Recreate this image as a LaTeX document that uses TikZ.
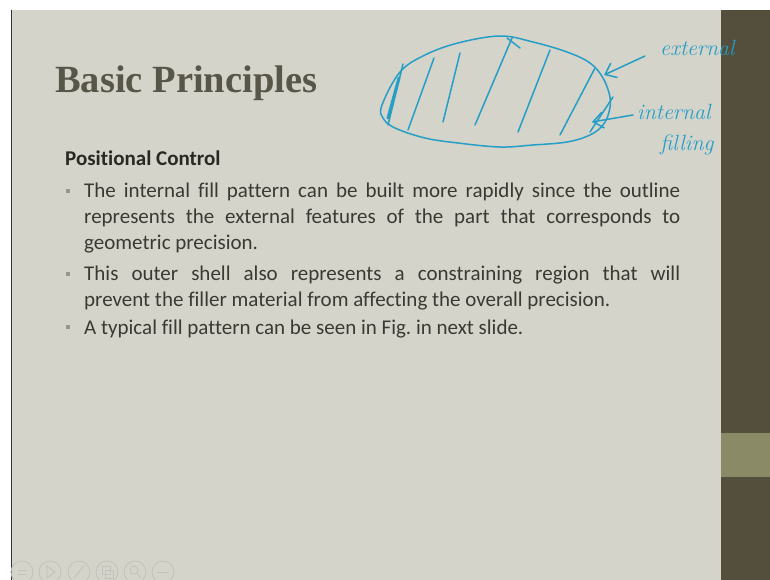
\documentclass[tikz,border=0pt]{standalone}
\usepackage{fontspec}
\newfontfamily\calibri[Ligatures=NoCommon]{Carlito}
\newfontfamily\titelschrift{Liberation Serif}
\usetikzlibrary{arrows.meta}
\frenchspacing
\definecolor{folie}{RGB}{212,212,203}
\definecolor{balken}{RGB}{84,78,60}
\definecolor{oliv}{RGB}{138,138,102}
\definecolor{titel}{RGB}{88,86,72}
\definecolor{schrift}{RGB}{58,58,52}
\definecolor{stiftfarbe}{RGB}{38,158,198}
\definecolor{punkt}{RGB}{150,150,140}
\definecolor{knopf}{RGB}{194,194,188}
\tikzset{
	stiftstrich/.style={stiftfarbe, line width=1.5pt, line cap=round, line join=round},
	absatz/.style={text width=596pt, align=justify, anchor=base west, inner sep=0pt, schrift, font=\calibri\fontsize{21}{26}\selectfont},
	bullet/.style={fill=punkt, inner sep=0pt, minimum size=4pt},
	hand/.style={stiftfarbe, anchor=base west, inner sep=0pt, font=\itshape\fontsize{22}{24}\selectfont}
}

\begin{document}
\begin{tikzpicture}[x=1pt,y=-1pt] %Folie mit Handskizze
	\useasboundingbox (0,0) rectangle (770,580);
	\fill[white] (0,0) rectangle (770,580);
	\fill[folie] (12,10) rectangle (721,580);
	\fill[balken] (721,10) rectangle (770,580);
	\fill[oliv] (721,433) rectangle (770,477);
	\draw[black!80, line width=1.2pt] (11.5,10) -- (11.5,580);
	% Navigation
	\draw[knopf, line width=0.8pt] (22,572) circle (11pt);
	\draw[knopf, line width=0.8pt] (50,572) circle (11pt);
	\draw[knopf, line width=0.8pt] (79,572) circle (11pt);
	\draw[knopf, line width=0.8pt] (107,572) circle (11pt);
	\draw[knopf, line width=0.8pt] (135,572) circle (11pt);
	\draw[knopf, line width=0.8pt] (163,572) circle (11pt);
	\draw[knopf, line width=0.8pt] (18,570) -- (26,570) (18,574) -- (26,574);
	\draw[knopf, line width=0.8pt] (47,566) -- (55,572) -- (47,578) -- cycle;
	\draw[knopf, line width=0.8pt] (74,578) -- (84,566);
	\draw[knopf, line width=0.8pt] (102,566) rectangle (110,574) (105,570) rectangle (113,578);
	\draw[knopf, line width=0.8pt] (134,570) circle (4pt) (137,573) -- (141,578);
	\draw[knopf, line width=0.8pt] (157,572) -- (169,572);

	\node[titel, anchor=base west, inner sep=0pt, font=\titelschrift\bfseries\fontsize{38.5}{40}\selectfont] (T) at (55,93) {Basic Principles};
	\node[schrift!70!black, anchor=base west, inner sep=0pt, font=\calibri\bfseries\fontsize{21}{24}\selectfont] (H) at (65,166) {Positional Control};

	\node[bullet] (B1) at (68,191) {};
	\node[absatz] (P1) at (84,197) {The internal fill pattern can be built more rapidly since the outline\linebreak represents the external features of the part that corresponds to\linebreak geometric precision.};
	\node[bullet] (B2) at (68,274) {};
	\node[absatz] (P2) at (84,280) {This outer shell also represents a constraining region that will\linebreak prevent the filler material from affecting the overall precision.};
	\node[bullet] (B3) at (68,327) {};
	\node[absatz] (P3) at (84,334) {A typical fill pattern can be seen in Fig. in next slide.};

	% Skizze
	\draw[stiftstrich] plot[smooth cycle, tension=0.6] coordinates {(382,105) (400,72) (425,55) (458,43) (500,36) (533,42) (567,52) (590,63) (603,78) (610,97) (609,112) (603,125) (590,135) (567,142) (533,145) (500,147) (458,143) (425,138) (395,128) (383,118)};
	\draw[stiftstrich, line width=3pt] (399,78) -- (388,118);
	\draw[stiftstrich] (403,64) -- (388,125);
	\draw[stiftstrich] (434,58) -- (408,130);
	\draw[stiftstrich] (460,53) -- (443,122);
	\draw[stiftstrich] (507,38) -- (520,48);
	\draw[stiftstrich] (512,38) -- (475,125);
	\draw[stiftstrich] (550,50) -- (518,132);
	\draw[stiftstrich] (595,68) -- (560,135);
	\draw[stiftstrich] (613,97) -- (590,132);

	\node[hand] (E) at (660,56) {external};
	\node[hand] (I) at (637,120) {internal};
	\node[hand] (F) at (660,150) {filling};
	\coordinate (Eend) at (645,56);
	\coordinate (Espitze) at (604,75);
	\coordinate (Iend) at (633,115);
	\coordinate (Ispitze) at (592,122);
	\draw[stiftstrich, -{Straight Barb[length=10pt,width=16pt]}] (Eend) -- (Espitze);
	\draw[stiftstrich, -{Straight Barb[length=10pt,width=16pt]}] (Iend) -- (Ispitze);
\end{tikzpicture}
\end{document}
